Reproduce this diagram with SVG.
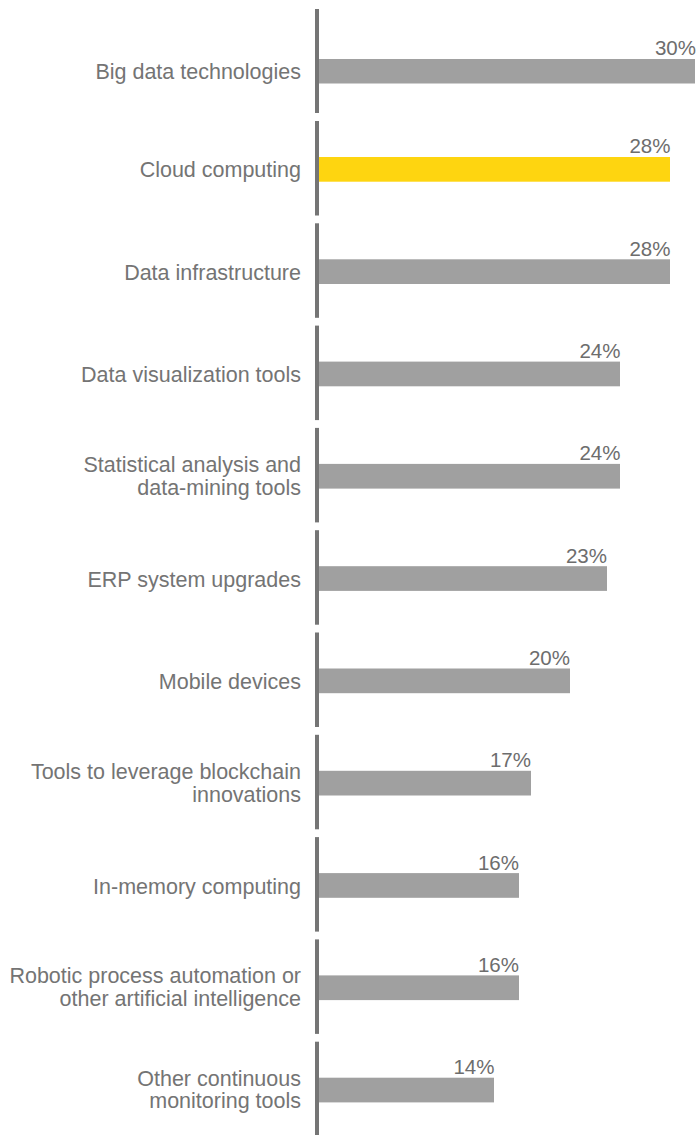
<svg xmlns="http://www.w3.org/2000/svg" width="697" height="1135" viewBox="0 0 697 1135">
<style>
.lbl{font-family:"Liberation Sans",Arial,sans-serif;font-size:21.5px;fill:#747474;text-anchor:end}
.val{font-family:"Liberation Sans",Arial,sans-serif;font-size:20.5px;fill:#6d6d6d;text-anchor:end}
.bar{fill:#a0a0a0}
.hl{fill:#fed510}
.ax{fill:#757575}
</style>
<rect width="697" height="1135" fill="#ffffff"/>
<g id="axis">
<rect class="ax" x="315" y="9" width="4" height="104"/>
<rect class="ax" x="315" y="121" width="4" height="94.5"/>
<rect class="ax" x="315" y="223.3" width="4" height="94.5"/>
<rect class="ax" x="315" y="325.6" width="4" height="94.5"/>
<rect class="ax" x="315" y="427.9" width="4" height="94.5"/>
<rect class="ax" x="315" y="530.2" width="4" height="94.5"/>
<rect class="ax" x="315" y="632.5" width="4" height="94.5"/>
<rect class="ax" x="315" y="734.8" width="4" height="94.5"/>
<rect class="ax" x="315" y="837.1" width="4" height="94.5"/>
<rect class="ax" x="315" y="939.4" width="4" height="94.5"/>
<rect class="ax" x="315" y="1041.7" width="4" height="93.3"/>
</g>
<g id="bar-big-data">
<rect class="bar" x="319" y="59" width="376" height="24.5"/>
<text class="val" x="696" y="55">30%</text>
<text class="lbl" x="301" y="79.2">Big data technologies</text>
</g>
<g id="bar-cloud">
<rect class="hl" x="319" y="157" width="351" height="24.7"/>
<text class="val" x="670.5" y="153.4">28%</text>
<text class="lbl" x="301" y="177.4">Cloud computing</text>
</g>
<g id="bar-data-infra">
<rect class="bar" x="319" y="259.3" width="351" height="24.7"/>
<text class="val" x="670.5" y="255.7">28%</text>
<text class="lbl" x="301" y="279.7">Data infrastructure</text>
</g>
<g id="bar-data-vis">
<rect class="bar" x="319" y="361.6" width="301" height="24.7"/>
<text class="val" x="620.5" y="358">24%</text>
<text class="lbl" x="301" y="382">Data visualization tools</text>
</g>
<g id="bar-stat">
<rect class="bar" x="319" y="463.9" width="301" height="24.7"/>
<text class="val" x="620.5" y="460.3">24%</text>
<text class="lbl" x="301" y="472"><tspan x="301">Statistical analysis and</tspan><tspan x="301" dy="22.7">data-mining tools</tspan></text>
</g>
<g id="bar-erp">
<rect class="bar" x="319" y="566.2" width="288" height="24.7"/>
<text class="val" x="607" y="562.6">23%</text>
<text class="lbl" x="301" y="586.6">ERP system upgrades</text>
</g>
<g id="bar-mobile">
<rect class="bar" x="319" y="668.5" width="251" height="24.7"/>
<text class="val" x="570" y="664.9">20%</text>
<text class="lbl" x="301" y="688.9">Mobile devices</text>
</g>
<g id="bar-blockchain">
<rect class="bar" x="319" y="770.8" width="212" height="24.7"/>
<text class="val" x="531" y="767.2">17%</text>
<text class="lbl" x="301" y="778.6"><tspan x="301">Tools to leverage blockchain</tspan><tspan x="301" dy="22.9">innovations</tspan></text>
</g>
<g id="bar-in-memory">
<rect class="bar" x="319" y="873.1" width="200" height="24.7"/>
<text class="val" x="519" y="869.5">16%</text>
<text class="lbl" x="301" y="893.5">In-memory computing</text>
</g>
<g id="bar-rpa">
<rect class="bar" x="319" y="975.4" width="200" height="24.7"/>
<text class="val" x="519" y="971.8">16%</text>
<text class="lbl" x="301" y="983.4"><tspan x="301">Robotic process automation or</tspan><tspan x="301" dy="22.7">other artificial intelligence</tspan></text>
</g>
<g id="bar-other">
<rect class="bar" x="319" y="1077.7" width="175" height="24.7"/>
<text class="val" x="494.5" y="1074.1">14%</text>
<text class="lbl" x="301" y="1085.7"><tspan x="301">Other continuous</tspan><tspan x="301" dy="22.7">monitoring tools</tspan></text>
</g>
</svg>
